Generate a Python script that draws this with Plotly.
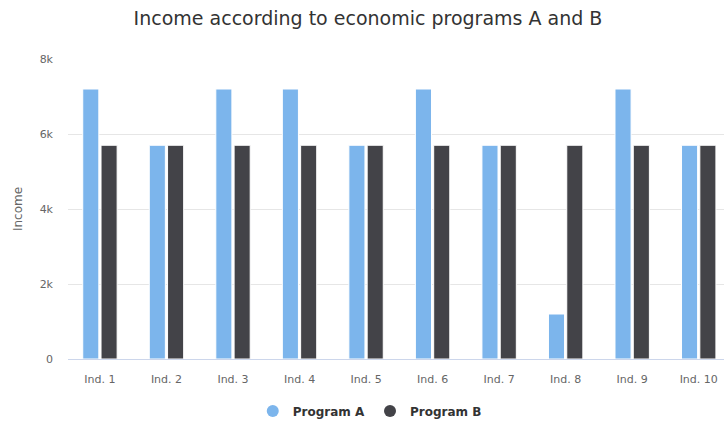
import plotly.graph_objects as go

categories = ["Ind. 1", "Ind. 2", "Ind. 3", "Ind. 4", "Ind. 5",
              "Ind. 6", "Ind. 7", "Ind. 8", "Ind. 9", "Ind. 10"]
program_a = [7200, 5700, 7200, 7200, 5700, 7200, 5700, 1200, 7200, 5700]
program_b = [5700, 5700, 5700, 5700, 5700, 5700, 5700, 5700, 5700, 5700]
y_ticks = [0, 2000, 4000, 6000, 8000]
y_tick_labels = ["0", "2k", "4k", "6k", "8k"]

color_a = "#7cb5ec"
color_b = "#434348"
font_family = "DejaVu Sans, Verdana, sans-serif"

fig = go.Figure()
for name, vals, col in [("Program A", program_a, color_a), ("Program B", program_b, color_b)]:
    fig.add_trace(go.Bar(
        x=categories, y=vals, name=name, marker=dict(color=col, line=dict(color="#ffffff", width=1)),
        showlegend=False, legendgroup=name,
    ))
# circular legend symbols
for name, col in [("Program A", color_a), ("Program B", color_b)]:
    fig.add_trace(go.Scatter(
        x=[None], y=[None], mode="markers", name=name, legendgroup=name,
        marker=dict(color=col, size=12, symbol="circle"),
    ))

fig.update_layout(
    width=724, height=422,
    margin=dict(l=68, r=0, t=59, b=63, autoexpand=False),
    paper_bgcolor="#ffffff", plot_bgcolor="#ffffff",
    font=dict(family=font_family, color="#666666", size=11),
    title=dict(text="Income according to economic programs A and B",
               x=368 / 724, xanchor="center", y=1 - 18 / 422, yanchor="middle",
               font=dict(size=19, color="#333333", family=font_family)),
    barmode="group", bargap=0.45, bargroupgap=0.12,
    showlegend=True,
    legend=dict(orientation="h", x=0.46, xanchor="center",
                yref="container", y=1 - 411 / 422, yanchor="middle",
                font=dict(size=12, color="#333333", family=font_family, weight=600),
                itemsizing="constant", itemwidth=30, traceorder="normal"),
    xaxis=dict(range=[-0.48, 9.38], showgrid=False, showline=True, linecolor="#ccd6eb",
               linewidth=1, ticks="", ticklabelstandoff=10,
               tickfont=dict(size=11, color="#666666"), fixedrange=True),
    yaxis=dict(range=[0, 8000], tickvals=y_ticks, ticktext=y_tick_labels,
               showgrid=True, gridcolor="#e6e6e6", zeroline=False, showline=False,
               ticks="", ticklabelstandoff=14, tickfont=dict(size=11, color="#666666"),
               title=dict(text="Income", font=dict(size=12, color="#666666"), standoff=14)),
)

fig.write_html("out.html")
